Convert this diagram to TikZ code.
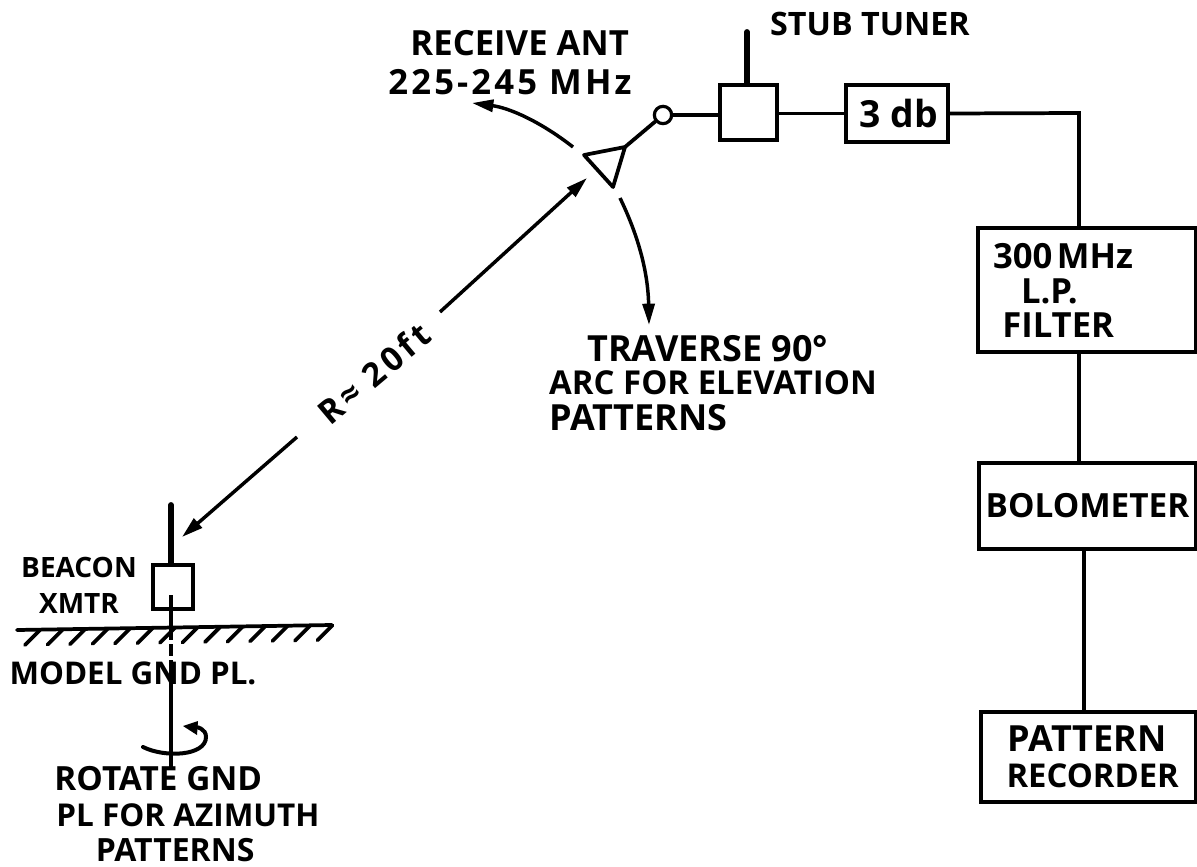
\documentclass[tikz,border=0pt]{standalone}
\usepackage{fontspec}
\setmainfont{Open Sans}
\usetikzlibrary{arrows.meta,calc}
\newcommand{\fsz}[1]{\fontsize{#1}{26}\selectfont}
\newcommand{\ls}{\rule[-6pt]{0pt}{19pt}}
\newcommand{\lsw}{\rule[-6pt]{0pt}{26pt}}
\tikzset{
  x=0.75pt,y=-0.75pt,
  wire/.style={line width=2.8pt,black,line cap=round},
  mastline/.style={line width=4.4pt,black,line cap=round},
  shaft/.style={line width=2.3pt,black},
  boxn/.style={draw=black,line width=3pt,fill=white,inner sep=0pt,font=\bfseries},
  lab/.style={inner sep=0pt,align=left,font=\bfseries},
  arr/.style={line width=2.6pt,black,-{Triangle[length=16pt,width=9pt]}},
}
\begin{document}
\begin{tikzpicture}
\useasboundingbox (0,0) rectangle (1197,867);
% boxes
\node[boxn,minimum width=42.75pt,minimum height=41pt] (stub) at (748.5,112.5) {};
\node[boxn,minimum width=76.5pt,minimum height=42.75pt] (atten) at (897,113.5) {\fsz{28}\hspace*{3pt}3 db};
\node[boxn,text width=163pt,minimum height=93pt,align=left] (filter) at (1087,290)
  {\fsz{26}\hspace*{11pt}300 MHz\rule[-6pt]{0pt}{32pt}\\\fsz{26}\hspace*{32pt}L.P.\lsw\\\fsz{26}\hspace*{18pt}FILTER\ls};
\node[boxn,minimum width=163pt,minimum height=64.5pt] (bolo) at (1087.5,506) {\fsz{25}BOLOMETER};
\node[boxn,text width=161pt,minimum height=67.5pt,align=left] (rec) at (1088.5,757)
  {\fsz{27}\hspace*{20pt}PATTERN\rule[-6pt]{0pt}{30pt}\\\fsz{24.6}\hspace*{19pt}RECORDER\rule[-6pt]{0pt}{26pt}};
\node[boxn,minimum width=30pt,minimum height=33pt] (xmtr) at (173,587) {};
% receive antenna
\coordinate (t1) at (584,155);
\coordinate (t2) at (625,147);
\coordinate (t3) at (613,187);
\draw[wire,line join=round] (t1) -- (t2) -- (t3) -- cycle;
\node[draw=black,line width=2.4pt,circle,minimum size=13pt,inner sep=0pt] (ring) at (663,115) {};
\draw[wire] (t2) -- (ring);
\draw[wire] (ring.east) -- (ring.east -| stub.west);
\coordinate (stubtop) at (747,32);
\draw[mastline] (stubtop |- stub.north) -- (stubtop);
\draw[wire] (stub.east |- atten.west) -- (atten.west);
\coordinate (corner) at (1079,113);
\draw[wire] (atten.east) -- (corner) -- (corner |- filter.north);
\draw[wire] (corner |- filter.south) -- (corner |- bolo.north);
\coordinate (lower) at (1084,640);
\draw[wire] (lower |- bolo.south) -- (lower |- rec.north);
% traverse arcs
\coordinate (a1) at (573,147);
\coordinate (a1e) at (472,103);
\coordinate (a2) at (620,198);
\coordinate (a2e) at (649,325);
\draw[arr] (a1) .. controls (541,122) and (510,108) .. (a1e);
\draw[arr] (a2) .. controls (637,233) and (648,270) .. (a2e);
% range
\coordinate (r1) at (440,312);
\coordinate (r1e) at (587,178);
\coordinate (r2) at (297,437);
\coordinate (r2e) at (182,537);
\draw[arr] (r1) -- (r1e);
\draw[arr] (r2) -- (r2e);
\node[lab,rotate=40] (range) at (374,373) {\fsz{25}\addfontfeature{LetterSpace=12}R≈ 20ft};
% beacon
\coordinate (bt) at (171,505);
\draw[mastline] (bt |- xmtr.north) -- (bt);
\coordinate (g1) at (17,630);
\coordinate (g2) at (332,625);
\draw[wire] (g1) -- (g2);
\foreach \i in {0,...,13} {
  \draw[line width=2.8pt,line cap=round] ({40+\i*22.5},{630-\i*0.36}) -- ({25+\i*22.5},{645-\i*0.36});
}
\coordinate (sh) at (171,595);
\coordinate (sm) at (171,628);
\coordinate (sd) at (171,668);
\coordinate (sb) at (171,767);
\draw[shaft] (sh) -- (sm);
\draw[shaft,dash pattern=on 9pt off 3pt] (sm) -- (sd);
\draw[shaft] (sd) -- (sb);
\draw[line width=3pt,line cap=round] (143,747) .. controls (165,758) and (206,756) .. (206,737) .. controls (206,729) and (198,726) .. (190,727);
\fill (183,726) -- (198,721) -- (197,735) -- cycle;
% labels
\node[lab] (l1) at (510,66.5) {\fsz{26}\hspace*{16.5pt}RECEIVE ANT\ls\\\fsz{26}\addfontfeature{LetterSpace=9}225-245 MHz\rule[-6pt]{0pt}{28pt}};
\node[lab,anchor=center] (l2) at (870,24) {\fsz{24.2}STUB TUNER};
\node[lab] (l3) at (713,387) {\fsz{27}\hspace*{28.5pt}TRAVERSE 90°\ls\\\fsz{24.7}ARC FOR ELEVATION\ls\\\fsz{27}PATTERNS\ls};
\node[lab,align=center] (l4) at (79,586) {\fsz{21}BEACON\lsw\\\fsz{21}XMTR\lsw};
\node[lab] (l5) at (133,673) {\fsz{23.5}MODEL GND PL.};
\node[lab] (l6) at (187,813) {\fsz{25}ROTATE GND\lsw\\\fsz{23.6}\hspace*{1.5pt}PL FOR AZIMUTH\lsw\\\fsz{24}\hspace*{31pt}PATTERNS\rule{0pt}{19pt}};
\end{tikzpicture}
\end{document}
